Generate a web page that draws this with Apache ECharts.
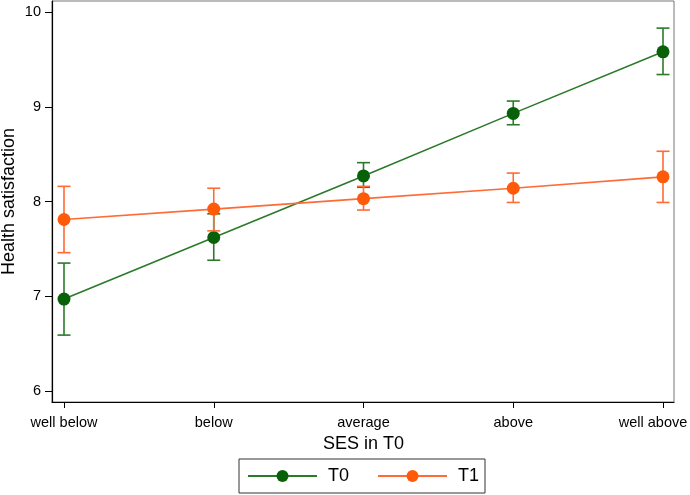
<!DOCTYPE html>
<html>
<head>
<meta charset="utf-8">
<script src="https://cdn.jsdelivr.net/npm/echarts@6/dist/echarts.min.js"></script>
<style>html,body{margin:0;padding:0;background:#fff;}#c{width:690px;height:495px;}</style>
</head>
<body>
<div id="c"></div>
<script>
const categories = ['well below', 'below', 'average', 'above', 'well above'];
const t0Mean = [6.97, 7.62, 8.27, 8.93, 9.58];
const t0Low  = [6.59, 7.38, 8.15, 8.81, 9.34];
const t0High = [7.35, 7.87, 8.41, 9.06, 9.83];
const t1Mean = [7.81, 7.92, 8.03, 8.14, 8.26];
const t1Low  = [7.46, 7.69, 7.91, 7.99, 7.99];
const t1High = [8.16, 8.14, 8.16, 8.30, 8.53];
const yTicks = [6, 7, 8, 9, 10];

const FONT = 'Liberation Sans, Arial, sans-serif';
const GREEN_LINE = '#2a7a2a', GREEN_MARK = '#086008';
const ORANGE_LINE = '#ff6a35', ORANGE_MARK = '#ff5a0a';

function errData(lo, hi) { return lo.map((v, i) => [i, v, hi[i]]); }
function errRender(color) {
  return function (params, api) {
    const x = api.value(0);
    const p1 = api.coord([x, api.value(1)]);
    const p2 = api.coord([x, api.value(2)]);
    const hw = 6.5;
    const st = { stroke: color, lineWidth: 1.6 };
    return { type: 'group', children: [
      { type: 'line', shape: { x1: p1[0], y1: p1[1], x2: p2[0], y2: p2[1] }, style: st },
      { type: 'line', shape: { x1: p1[0] - hw, y1: p1[1], x2: p1[0] + hw, y2: p1[1] }, style: st },
      { type: 'line', shape: { x1: p2[0] - hw, y1: p2[1], x2: p2[0] + hw, y2: p2[1] }, style: st }
    ]};
  };
}

const chart = echarts.init(document.getElementById('c'), null, { renderer: 'canvas' });
chart.setOption({
  animation: false,
  textStyle: { fontFamily: FONT },
  grid: [
    { left: 52, right: 16, top: 1, bottom: 93, show: true, borderColor: '#777', borderWidth: 1, backgroundColor: 'transparent', outerBoundsMode: 'none', containLabel: false },
    { left: 64, right: 27, top: 12, bottom: 104, outerBoundsMode: 'none', containLabel: false }
  ],
  xAxis: [
    { gridIndex: 0, type: 'value', min: 0, max: 1, axisLine: { show: true, lineStyle: { color: '#000', width: 1.2 } }, axisTick: { show: false }, axisLabel: { show: false }, splitLine: { show: false } },
    { gridIndex: 1, type: 'category', data: categories, boundaryGap: false, offset: 11,
      axisLine: { show: false }, axisTick: { show: true, length: 6, lineStyle: { color: '#000' } },
      axisLabel: { color: '#000', fontSize: 14.5, margin: 13, fontFamily: FONT, hideOverlap: false,
        formatter: function (v, i) { return i === categories.length - 1 ? '{r|' + v + '}' : v; },
        rich: { r: { fontSize: 14.5, color: '#000', fontFamily: FONT, padding: [0, 20, 0, 0] } } },
      name: 'SES in T0', nameLocation: 'middle', nameGap: 24,
      nameTextStyle: { color: '#000', fontSize: 18, fontFamily: FONT },
      splitLine: { show: false } }
  ],
  yAxis: [
    { gridIndex: 0, type: 'value', min: 0, max: 1, axisLine: { show: true, lineStyle: { color: '#000', width: 1.2 } }, axisTick: { show: false }, axisLabel: { show: false }, splitLine: { show: false } },
    { gridIndex: 1, type: 'value', min: yTicks[0], max: yTicks[yTicks.length - 1], interval: 1, offset: 12,
      axisLine: { show: false }, axisTick: { show: true, length: 7, lineStyle: { color: '#000' } },
      axisLabel: { color: '#000', fontSize: 14.5, margin: 11, fontFamily: FONT },
      name: 'Health satisfaction', nameLocation: 'middle', nameGap: 34, nameMoveOverlap: false,
      nameTextStyle: { color: '#000', fontSize: 18, fontFamily: FONT },
      splitLine: { show: false } }
  ],
  legend: {
    left: 239, top: 459, padding: [8, 6, 8, 8],
    borderColor: '#333', borderWidth: 1,
    itemWidth: 69, itemHeight: 15, itemGap: 28,
    textStyle: { fontSize: 18, color: '#000', fontFamily: FONT, padding: [0, 0, 0, 6] },
    data: ['T0', 'T1']
  },
  series: [
    { name: 'T0err', type: 'custom', xAxisIndex: 1, yAxisIndex: 1, data: errData(t0Low, t0High), renderItem: errRender(GREEN_LINE), z: 2 },
    { name: 'T0', type: 'line', xAxisIndex: 1, yAxisIndex: 1, data: t0Mean, symbol: 'circle', symbolSize: 13,
      lineStyle: { color: GREEN_LINE, width: 1.6 }, itemStyle: { color: GREEN_MARK }, z: 3 },
    { name: 'T1err', type: 'custom', xAxisIndex: 1, yAxisIndex: 1, data: errData(t1Low, t1High), renderItem: errRender(ORANGE_LINE), z: 4 },
    { name: 'T1', type: 'line', xAxisIndex: 1, yAxisIndex: 1, data: t1Mean, symbol: 'circle', symbolSize: 13,
      lineStyle: { color: ORANGE_LINE, width: 1.6 }, itemStyle: { color: ORANGE_MARK }, z: 5 }
  ]
});
</script>
</body>
</html>
